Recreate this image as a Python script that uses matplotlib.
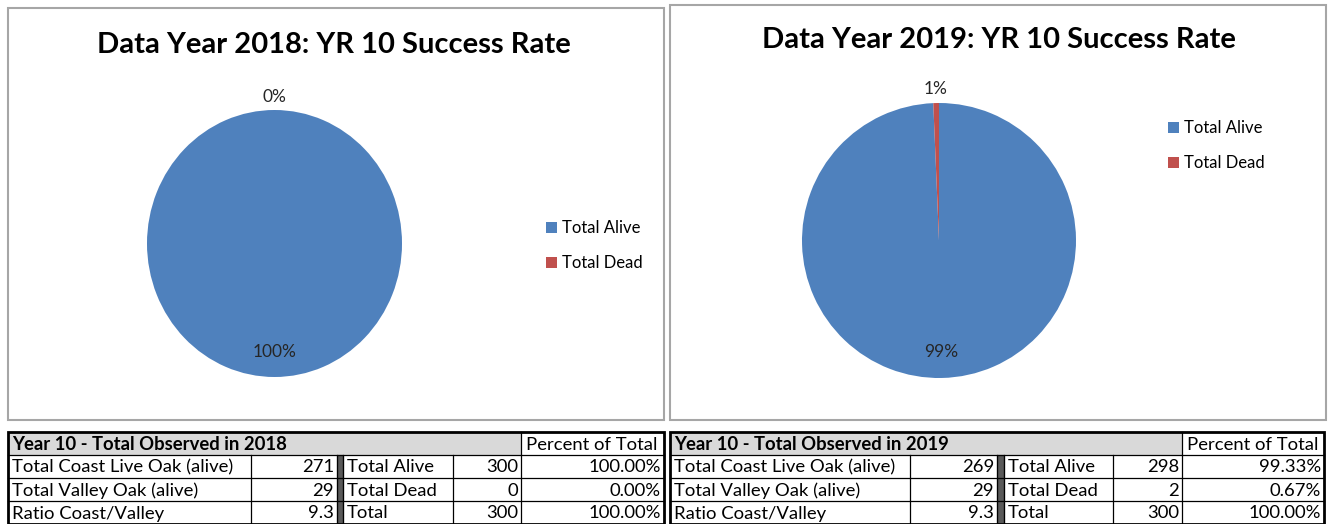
import matplotlib
matplotlib.use("Agg")
import matplotlib.pyplot as plt
import numpy as np
from matplotlib.patches import Rectangle

plt.rcParams["font.family"] = ["Lato", "DejaVu Sans"]

# ---------------------------------------------------------------------------
# Data
# ---------------------------------------------------------------------------

years = ["2018", "2019"]
slice_labels = ["Total Alive", "Total Dead"]
total_alive = [300, 298]
total_dead = [0, 2]
coast_live_oak = [271, 269]
valley_oak = [29, 29]
ratio_coast_valley = ["9.3", "9.3"]

pie_colors = ["#4f81bd", "#c0504d"]

# ---------------------------------------------------------------------------
# Layout (pixel boxes: left, top, right, bottom)
# ---------------------------------------------------------------------------

W, H = 1328, 524
chart_boxes = [(8, 8, 664, 420), (670, 5, 1326, 420)]
pie_boxes = [(147, 110, 402, 377), (802, 103, 1076, 378)]
title_pos = [(334, 45), (999, 40)]
legend_pos = [(546, 220), (1168, 120)]
table_cols = [[8, 251, 337, 343, 453, 521, 664],
              [670, 910, 997, 1004, 1113, 1182, 1324]]
table_rows = [432, 455, 478, 501, 524]


def fig_rect(l, t, r, b):
    return [l / W, 1 - b / H, (r - l) / W, (b - t) / H]


def draw_pie(fig, i):
    values = [total_alive[i], total_dead[i]]
    ax = fig.add_axes(fig_rect(*pie_boxes[i]))
    wedges, _, autotexts = ax.pie(
        values, colors=pie_colors, startangle=90, counterclock=False,
        autopct="%1.0f%%", pctdistance=0.81, wedgeprops=dict(linewidth=0),
        textprops=dict(fontsize=12.5, color="#262626"))
    ax.set_aspect("auto")
    ax.set_xlim(-1, 1)
    ax.set_ylim(-1, 1)
    # small slices get their label outside the pie, like Excel does
    for w, t, v in zip(wedges, autotexts, values):
        if v / sum(values) < 0.05:
            ang = np.deg2rad((w.theta1 + w.theta2) / 2)
            t.set_position((1.1 * np.cos(ang), 1.1 * np.sin(ang)))

    lx, ly = legend_pos[i]
    fig.legend(wedges, slice_labels, loc="upper left",
               bbox_to_anchor=(lx / W, 1 - ly / H), frameon=False,
               fontsize=12, handlelength=0.65, handleheight=0.65,
               handletextpad=0.3, labelspacing=1.15, borderpad=0,
               borderaxespad=0)

    tx, ty = title_pos[i]
    fig.text(tx / W, 1 - ty / H, f"Data Year {years[i]}: YR 10 Success Rate",
             ha="center", va="center", fontsize=21, fontweight="bold")


def draw_table(bg, i):
    xs = table_cols[i]
    ys = table_rows
    total = total_alive[i] + total_dead[i]

    # header shading and separator column
    bg.add_patch(Rectangle((xs[0], ys[0]), xs[5] - xs[0], ys[1] - ys[0],
                           facecolor="#d9d9d9", edgecolor="none"))
    bg.add_patch(Rectangle((xs[2], ys[1]), xs[3] - xs[2], ys[4] - ys[1],
                           facecolor="#595959", edgecolor="black", lw=0.8))
    # grid lines
    for y in ys[1:4]:
        bg.plot([xs[0], xs[6]], [y, y], color="black", lw=0.9)
    for x in xs[1:6]:
        bg.plot([x, x], [ys[1], ys[4]], color="black", lw=0.9)
    bg.plot([xs[5], xs[5]], [ys[0], ys[1]], color="black", lw=0.9)
    bg.add_patch(Rectangle((xs[0], ys[0]), xs[6] - xs[0], ys[4] - ys[0],
                           facecolor="none", edgecolor="black", lw=2))

    fs = 13.3
    cy = [(a + b) / 2 + 1 for a, b in zip(ys[:-1], ys[1:])]
    bg.text(xs[0] + 4, cy[0], f"Year 10 - Total Observed in {years[i]}",
            ha="left", va="center", fontsize=fs, fontweight="bold")
    bg.text(xs[5] + 5, cy[0], "Percent of Total", ha="left", va="center",
            fontsize=fs)

    left_labels = ["Total Coast Live Oak (alive)", "Total Valley Oak (alive)",
                   "Ratio Coast/Valley"]
    left_vals = [str(coast_live_oak[i]), str(valley_oak[i]),
                 ratio_coast_valley[i]]
    mid_labels = ["Total Alive", "Total Dead", "Total"]
    mid_vals = [total_alive[i], total_dead[i], total]
    for r in range(3):
        y = cy[r + 1]
        bg.text(xs[0] + 4, y, left_labels[r], ha="left", va="center",
                fontsize=fs)
        bg.text(xs[2] - 3, y, left_vals[r], ha="right", va="center",
                fontsize=fs)
        bg.text(xs[3] + 4, y, mid_labels[r], ha="left", va="center",
                fontsize=fs)
        bg.text(xs[5] - 3, y, str(mid_vals[r]), ha="right", va="center",
                fontsize=fs)
        bg.text(xs[6] - 3, y, f"{mid_vals[r] / total * 100:.2f}%",
                ha="right", va="center", fontsize=fs)


fig = plt.figure(figsize=(W / 100, H / 100), dpi=100, facecolor="white")
bg = fig.add_axes([0, 0, 1, 1])
bg.set_xlim(0, W)
bg.set_ylim(H, 0)
bg.axis("off")

for i in range(len(years)):
    l, t, r, b = chart_boxes[i]
    bg.add_patch(Rectangle((l, t), r - l, b - t, facecolor="white",
                           edgecolor="#a6a6a6", lw=1.5))
    draw_table(bg, i)
    draw_pie(fig, i)

fig.savefig("out.png", dpi=100)
